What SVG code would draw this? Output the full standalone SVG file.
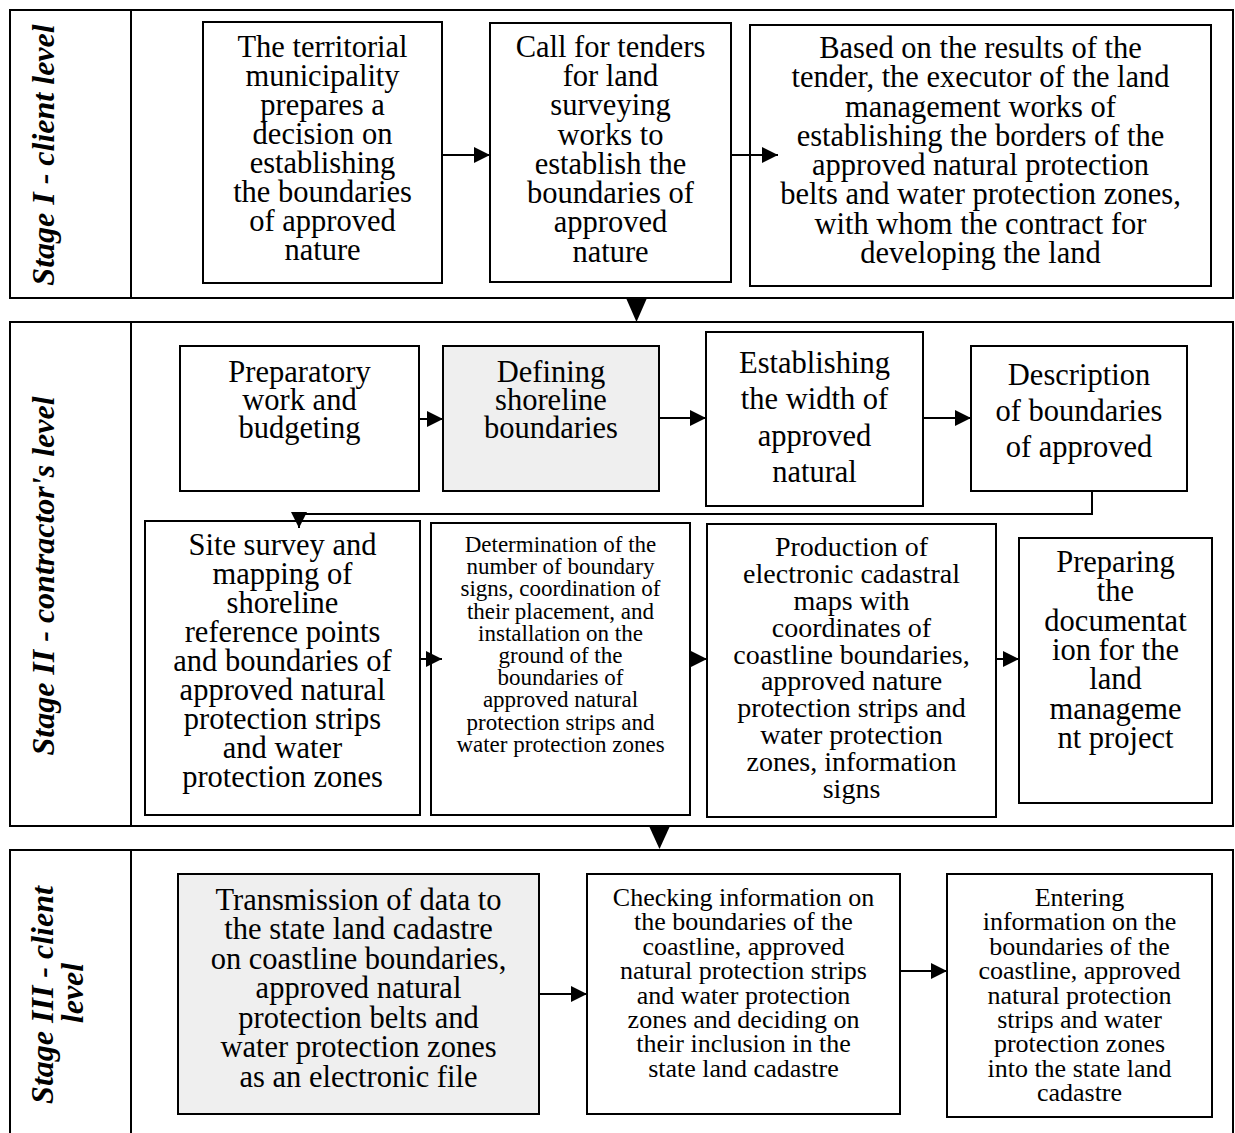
<svg xmlns="http://www.w3.org/2000/svg" width="1235" height="1133" viewBox="0 0 1235 1133">
<style>
.frame{fill:none;stroke:#000;stroke-width:2}
.box{fill:#fff;stroke:#000;stroke-width:2}
.gray{fill:#efefef;stroke:#000;stroke-width:2}
.t{font-family:"Liberation Serif","Times New Roman",serif;text-anchor:middle;fill:#000}
.f31{font-size:30.5px}.f28{font-size:28px}.f26{font-size:26px}.f23{font-size:23px}
.lab{font-family:"Liberation Serif","Times New Roman",serif;font-size:32px;font-weight:bold;font-style:italic;text-anchor:middle;fill:#000}
.con{fill:none;stroke:#000;stroke-width:2}
.tri{fill:#000}
</style>
<defs>
<marker id="ah" markerUnits="userSpaceOnUse" markerWidth="16" markerHeight="16" refX="16" refY="8" orient="auto">
<path d="M0,0 L16,8 L0,16 z" fill="#000"/>
</marker>
</defs>

<g id="stage1">
<rect class="frame" x="10" y="10" width="1223" height="288"/>
<line class="frame" x1="131" y1="10" x2="131" y2="298"/>
<text class="lab" transform="translate(54,155) rotate(-90)">Stage I - client level</text>
</g>
<g id="stage2">
<rect class="frame" x="10" y="322" width="1223" height="504"/>
<line class="frame" x1="131" y1="322" x2="131" y2="826"/>
<text class="lab" transform="translate(54,576) rotate(-90)">Stage II - contractor's level</text>
</g>
<g id="stage3">
<rect class="frame" x="10" y="850" width="1223" height="300"/>
<line class="frame" x1="131" y1="850" x2="131" y2="1133"/>
<text class="lab" transform="translate(53,995) rotate(-90)">Stage III - client</text>
<text class="lab" transform="translate(83,993) rotate(-90)">level</text>
</g>

<g id="n1">
<rect class="box" x="203" y="22" width="239" height="261"/>
<text class="t f31"><tspan x="322.5" y="57">The territorial</tspan><tspan x="322.5" y="86">municipality</tspan><tspan x="322.5" y="115">prepares a</tspan><tspan x="322.5" y="144">decision on</tspan><tspan x="322.5" y="173">establishing</tspan><tspan x="322.5" y="202">the boundaries</tspan><tspan x="322.5" y="231">of approved</tspan><tspan x="322.5" y="260">nature</tspan></text>
</g>
<g id="n2">
<rect class="box" x="490" y="23" width="241" height="259"/>
<text class="t f31"><tspan x="610.5" y="57">Call for tenders</tspan><tspan x="610.5" y="86">for land</tspan><tspan x="610.5" y="115">surveying</tspan><tspan x="610.5" y="145">works to</tspan><tspan x="610.5" y="174">establish the</tspan><tspan x="610.5" y="203">boundaries of</tspan><tspan x="610.5" y="232">approved</tspan><tspan x="610.5" y="262">nature</tspan></text>
</g>
<g id="n3">
<rect class="box" x="750" y="25" width="461" height="261"/>
<text class="t f31"><tspan x="980.5" y="58">Based on the results of the</tspan><tspan x="980.5" y="87">tender, the executor of the land</tspan><tspan x="980.5" y="117">management works of</tspan><tspan x="980.5" y="146">establishing the borders of the</tspan><tspan x="980.5" y="175">approved natural protection</tspan><tspan x="980.5" y="204">belts and water protection zones,</tspan><tspan x="980.5" y="234">with whom the contract for</tspan><tspan x="980.5" y="263">developing the land</tspan></text>
</g>

<g id="n4">
<rect class="box" x="180" y="346" width="239" height="145"/>
<text class="t f31"><tspan x="299.5" y="382">Preparatory</tspan><tspan x="299.5" y="410">work and</tspan><tspan x="299.5" y="438">budgeting</tspan></text>
</g>
<g id="n5">
<rect class="gray" x="443" y="346" width="216" height="145"/>
<text class="t f31"><tspan x="551" y="382">Defining</tspan><tspan x="551" y="410">shoreline</tspan><tspan x="551" y="438">boundaries</tspan></text>
</g>
<g id="n6">
<rect class="box" x="706" y="332" width="217" height="174"/>
<text class="t f31"><tspan x="814.5" y="373">Establishing</tspan><tspan x="814.5" y="409">the width of</tspan><tspan x="814.5" y="446">approved</tspan><tspan x="814.5" y="482">natural</tspan></text>
</g>
<g id="n7">
<rect class="box" x="971" y="346" width="216" height="145"/>
<text class="t f31"><tspan x="1079" y="385">Description</tspan><tspan x="1079" y="421">of boundaries</tspan><tspan x="1079" y="457">of approved</tspan></text>
</g>

<g id="n8">
<rect class="box" x="145" y="521" width="275" height="294"/>
<text class="t f31"><tspan x="282.5" y="555">Site survey and</tspan><tspan x="282.5" y="584">mapping of</tspan><tspan x="282.5" y="613">shoreline</tspan><tspan x="282.5" y="642">reference points</tspan><tspan x="282.5" y="671">and boundaries of</tspan><tspan x="282.5" y="700">approved natural</tspan><tspan x="282.5" y="729">protection strips</tspan><tspan x="282.5" y="758">and water</tspan><tspan x="282.5" y="787">protection zones</tspan></text>
</g>
<g id="n9">
<rect class="box" x="431" y="523" width="259" height="292"/>
<text class="t f23"><tspan x="560.5" y="552">Determination of the</tspan><tspan x="560.5" y="574">number of boundary</tspan><tspan x="560.5" y="596">signs, coordination of</tspan><tspan x="560.5" y="619">their placement, and</tspan><tspan x="560.5" y="641">installation on the</tspan><tspan x="560.5" y="663">ground of the</tspan><tspan x="560.5" y="685">boundaries of</tspan><tspan x="560.5" y="707">approved natural</tspan><tspan x="560.5" y="730">protection strips and</tspan><tspan x="560.5" y="752">water protection zones</tspan></text>
</g>
<g id="n10">
<rect class="box" x="707" y="524" width="289" height="293"/>
<text class="t f28"><tspan x="851.5" y="556">Production of</tspan><tspan x="851.5" y="583">electronic cadastral</tspan><tspan x="851.5" y="610">maps with</tspan><tspan x="851.5" y="637">coordinates of</tspan><tspan x="851.5" y="664">coastline boundaries,</tspan><tspan x="851.5" y="690">approved nature</tspan><tspan x="851.5" y="717">protection strips and</tspan><tspan x="851.5" y="744">water protection</tspan><tspan x="851.5" y="771">zones, information</tspan><tspan x="851.5" y="798">signs</tspan></text>
</g>
<g id="n11">
<rect class="box" x="1019" y="538" width="193" height="265"/>
<text class="t f31"><tspan x="1115.5" y="572">Preparing</tspan><tspan x="1115.5" y="601">the</tspan><tspan x="1115.5" y="631">documentat</tspan><tspan x="1115.5" y="660">ion for the</tspan><tspan x="1115.5" y="689">land</tspan><tspan x="1115.5" y="719">manageme</tspan><tspan x="1115.5" y="748">nt project</tspan></text>
</g>

<g id="n12">
<rect class="gray" x="178" y="874" width="361" height="240"/>
<text class="t f31"><tspan x="358.5" y="910">Transmission of data to</tspan><tspan x="358.5" y="939">the state land cadastre</tspan><tspan x="358.5" y="969">on coastline boundaries,</tspan><tspan x="358.5" y="998">approved natural</tspan><tspan x="358.5" y="1028">protection belts and</tspan><tspan x="358.5" y="1057">water protection zones</tspan><tspan x="358.5" y="1087">as an electronic file</tspan></text>
</g>
<g id="n13">
<rect class="box" x="587" y="874" width="313" height="240"/>
<text class="t f26"><tspan x="743.5" y="906">Checking information on</tspan><tspan x="743.5" y="930">the boundaries of the</tspan><tspan x="743.5" y="955">coastline, approved</tspan><tspan x="743.5" y="979">natural protection strips</tspan><tspan x="743.5" y="1004">and water protection</tspan><tspan x="743.5" y="1028">zones and deciding on</tspan><tspan x="743.5" y="1052">their inclusion in the</tspan><tspan x="743.5" y="1077">state land cadastre</tspan></text>
</g>
<g id="n14">
<rect class="box" x="947" y="874" width="265" height="243"/>
<text class="t f26"><tspan x="1079.5" y="906">Entering</tspan><tspan x="1079.5" y="930">information on the</tspan><tspan x="1079.5" y="955">boundaries of the</tspan><tspan x="1079.5" y="979">coastline, approved</tspan><tspan x="1079.5" y="1004">natural protection</tspan><tspan x="1079.5" y="1028">strips and water</tspan><tspan x="1079.5" y="1052">protection zones</tspan><tspan x="1079.5" y="1077">into the state land</tspan><tspan x="1079.5" y="1101">cadastre</tspan></text>
</g>

<g id="connectors">
<line class="con" x1="442" y1="155" x2="490" y2="155" marker-end="url(#ah)"/>
<line class="con" x1="731" y1="155" x2="778" y2="155" marker-end="url(#ah)"/>
<polygon class="tri" points="626,298 647,298 636.5,322"/>
<line class="con" x1="419" y1="419" x2="443" y2="419" marker-end="url(#ah)"/>
<line class="con" x1="659" y1="418" x2="706" y2="418" marker-end="url(#ah)"/>
<line class="con" x1="923" y1="418" x2="971" y2="418" marker-end="url(#ah)"/>
<polyline class="con" points="1092,491 1092,514 299,514 299,528" marker-end="url(#ah)"/>
<line class="con" x1="420" y1="659" x2="442" y2="659" marker-end="url(#ah)"/>
<line class="con" x1="690" y1="659" x2="707" y2="659" marker-end="url(#ah)"/>
<line class="con" x1="996" y1="659" x2="1019" y2="659" marker-end="url(#ah)"/>
<polygon class="tri" points="649,826 670,826 659.5,849"/>
<line class="con" x1="539" y1="994" x2="587" y2="994" marker-end="url(#ah)"/>
<line class="con" x1="900" y1="971" x2="947" y2="971" marker-end="url(#ah)"/>
</g>
</svg>
